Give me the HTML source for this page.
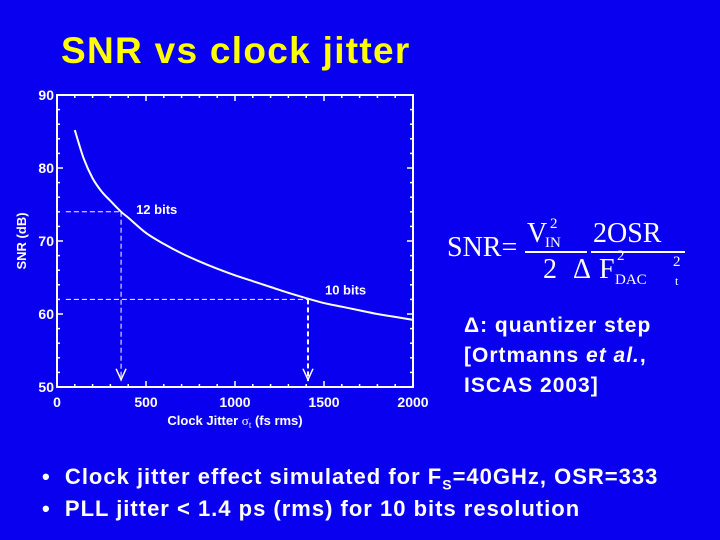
<!DOCTYPE html>
<html><head><meta charset="utf-8"><style>
body{margin:0;width:720px;height:540px;background:#0a00f0;overflow:hidden;font-family:"Liberation Sans",sans-serif;}
#page{position:relative;width:720px;height:540px;background:#0a00f0;}
.t{position:absolute;color:#fff;font-weight:bold;}
</style></head><body>
<div id="page">
<div class="t" style="left:61px;top:30px;font-size:37px;letter-spacing:1.3px;color:#ffff00;">SNR vs clock jitter</div>
<svg id="chart" width="720" height="540" style="position:absolute;left:0;top:0" font-family="Liberation Sans, sans-serif" font-weight="bold"></svg>
<div style="position:absolute;left:447px;top:218px;color:#fff;font-family:'Liberation Serif',serif;font-size:28px;white-space:nowrap;">
<span style="position:absolute;left:0;top:14px;">SNR=</span>
<span style="position:absolute;left:80px;top:0;">V</span>
<span style="position:absolute;left:103px;top:-2px;font-size:15px">2</span>
<span style="position:absolute;left:98px;top:17px;font-size:15px">IN</span>
<span style="position:absolute;left:78px;top:33px;width:62px;border-top:2px solid #fff;"></span>
<span style="position:absolute;left:96px;top:36px;">2</span>
<span style="position:absolute;left:146px;top:0;">2OSR</span>
<span style="position:absolute;left:144px;top:33px;width:94px;border-top:2px solid #fff;"></span>
<span style="position:absolute;left:126px;top:36px;">Δ</span>
<span style="position:absolute;left:152px;top:36px;">F</span>
<span style="position:absolute;left:170px;top:30px;font-size:15px">2</span>
<span style="position:absolute;left:168px;top:54px;font-size:15px">DAC</span>
<span style="position:absolute;left:226px;top:36px;font-size:15px">2</span>
<span style="position:absolute;left:228px;top:56px;font-size:12px">t</span>
</div>
<div class="t" style="left:464px;top:311px;font-size:21px;letter-spacing:1px;line-height:30px;">Δ: quantizer step<br>[Ortmanns <i>et al.</i>,<br>ISCAS 2003]</div>
<div class="t" style="left:42px;top:461px;font-size:22px;letter-spacing:1px;line-height:32px;">
<div>•&nbsp; Clock jitter effect simulated for F<sub style="font-size:14px;line-height:0">S</sub>=40GHz, OSR=333</div>
<div>•&nbsp; PLL jitter &lt; 1.4 ps (rms) for 10 bits resolution</div>
</div>
</div>
<script>
const jitter=[100,150,200,250,300,360,400,500,600,700,800,900,1000,1100,1200,1300,1410,1500,1600,1700,1800,1900,2000];
const snr=[85.2,81.3,78.6,76.8,75.5,74,73.2,71.1,69.6,68.3,67.2,66.2,65.3,64.5,63.7,62.9,62.1,61.5,61,60.5,60,59.6,59.2];
const xTicks=[0,500,1000,1500,2000];
const yTicks=[50,60,70,80,90];
const markerX=[360,1410];
const markerY=[74,62];
const markerLabels=["12 bits","10 bits"];
const NS="http://www.w3.org/2000/svg";
const svg=document.getElementById('chart');
const X0=57,X1=413,Y0=387,Y1=95;
const sx=v=>X0+(v-0)/(2000-0)*(X1-X0);
const sy=v=>Y0-(v-50)/(90-50)*(Y0-Y1);
function mk(tag,at){const e=document.createElementNS(NS,tag);for(const k in at)e.setAttribute(k,at[k]);svg.appendChild(e);return e;}
const frame=mk('rect',{x:X0,y:Y1,width:X1-X0,height:Y0-Y1,fill:'none',stroke:'#fff','stroke-width':2});


for(let v=0;v<=2000;v+=100){const maj=v%500===0,l=maj?6:3;
 const a=mk('line',{x1:sx(v),x2:sx(v),y1:Y0,y2:Y0-l,stroke:'#fff','stroke-width':1.5});
 
 const b=mk('line',{x1:sx(v),x2:sx(v),y1:Y1,y2:Y1+l,stroke:'#fff','stroke-width':1.5});
 }
for(let v=50;v<=90;v+=2){const maj=v%10===0,l=maj?6:3;
 const a=mk('line',{x1:X0,x2:X0+l,y1:sy(v),y2:sy(v),stroke:'#fff','stroke-width':1.5});
 
 const b=mk('line',{x1:X1,x2:X1-l,y1:sy(v),y2:sy(v),stroke:'#fff','stroke-width':1.5});
 }
xTicks.forEach(v=>{const t=mk('text',{x:sx(v),y:407,fill:'#fff','font-size':14,'text-anchor':'middle'});t.textContent=v;
 });
yTicks.forEach(v=>{const t=mk('text',{x:X0-3,y:sy(v)+5,fill:'#fff','font-size':14,'text-anchor':'end'});t.textContent=v;
 });
const xt=mk('text',{x:235,y:425,fill:'#fff','font-size':13,'text-anchor':'middle'});
xt.innerHTML='Clock Jitter <tspan font-family="Liberation Serif, serif" font-weight="normal">σ<tspan font-size="9" dy="3">t</tspan></tspan><tspan dy="-3"> (fs rms)</tspan>';

const yt=mk('text',{x:26,y:241,fill:'#fff','font-size':13,'text-anchor':'middle',transform:'rotate(-90 26 241)'});yt.textContent='SNR (dB)';

markerX.forEach((mx,i)=>{
 const h=mk('line',{x1:sx(50),x2:sx(mx),y1:sy(markerY[i]),y2:sy(markerY[i]),stroke:'#fff','stroke-width':1,'stroke-dasharray':'5,3'});
 
 const v=mk('line',{x1:sx(mx),x2:sx(mx),y1:sy(markerY[i]),y2:sy(50.8),stroke:'#fff','stroke-width':i?2:1,'stroke-dasharray':'5,3'});
 
 const ar=mk('polyline',{points:`${sx(mx)-5},${sy(52.5)} ${sx(mx)},${sy(51)} ${sx(mx)+5},${sy(52.5)}`,fill:'none',stroke:'#fff','stroke-width':1.5});
 
 const lb=mk('text',{x:sx(mx)+(i?17:15),y:sy(markerY[i])+(i?-5:2),fill:'#fff','font-size':13});lb.textContent=markerLabels[i];
 
});
const P=jitter.map((j,i)=>[sx(j),sy(snr[i])]);
let d='M'+P[0][0]+','+P[0][1];
for(let i=0;i<P.length-1;i++){const p0=P[Math.max(0,i-1)],p1=P[i],p2=P[i+1],p3=P[Math.min(P.length-1,i+2)];
 d+=` C${p1[0]+(p2[0]-p0[0])/6},${p1[1]+(p2[1]-p0[1])/6} ${p2[0]-(p3[0]-p1[0])/6},${p2[1]-(p3[1]-p1[1])/6} ${p2[0]},${p2[1]}`;}
const line=mk('path',{d:d,fill:'none',stroke:'#fff','stroke-width':2});

</script>
</body></html>
